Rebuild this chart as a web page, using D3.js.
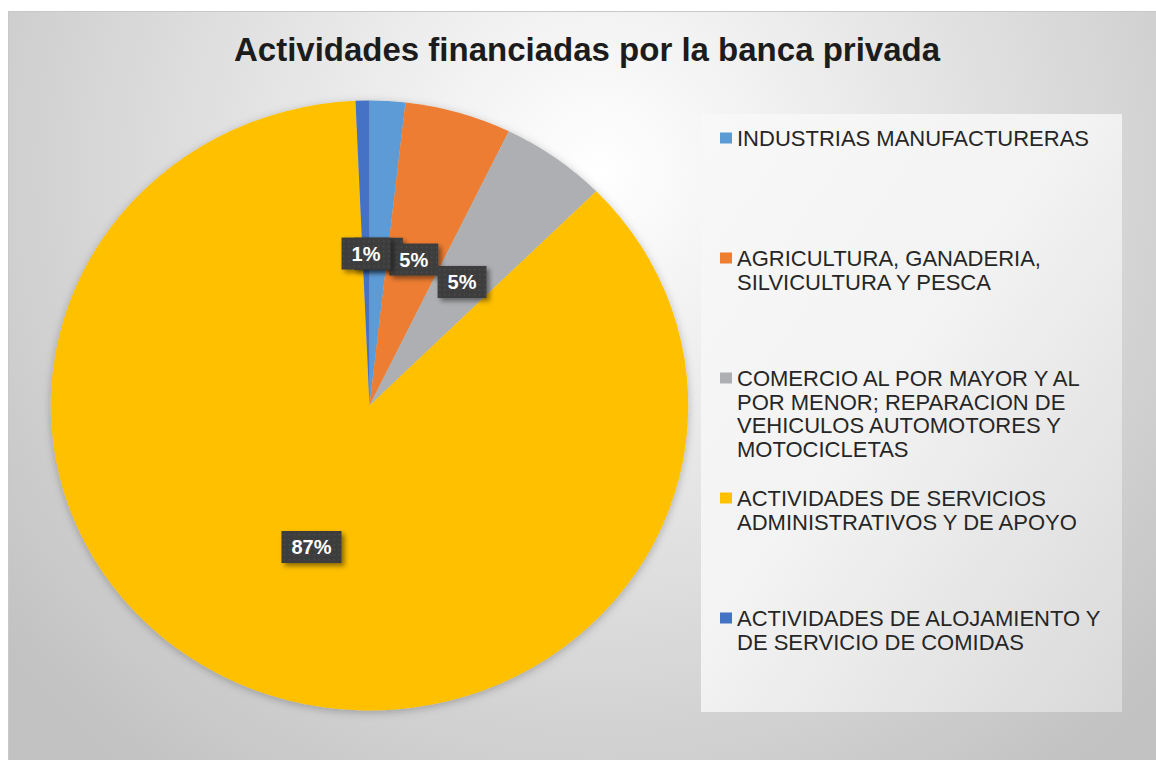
<!DOCTYPE html>
<html>
<head>
<meta charset="utf-8">
<script src="https://cdn.jsdelivr.net/npm/d3@7"></script>
<style>
  body { margin: 0; background: #fff; }
  svg { display: block; font-family: "Liberation Sans", Arial, sans-serif; }
</style>
</head>
<body>
<div id="chart"></div>
<script>
// data
var categories = [
    'INDUSTRIAS MANUFACTURERAS',
    'AGRICULTURA, GANADERIA, SILVICULTURA Y PESCA',
    'COMERCIO AL POR MAYOR Y AL POR MENOR; REPARACION DE VEHICULOS AUTOMOTORES Y MOTOCICLETAS',
    'ACTIVIDADES DE SERVICIOS ADMINISTRATIVOS Y DE APOYO',
    'ACTIVIDADES DE ALOJAMIENTO Y DE SERVICIO DE COMIDAS'
];
var shares = [1.8, 5.4, 5.4, 86.7, 0.7];
var colors = ['#5b9bd5', '#ed7d31', '#aeafb2', '#ffc000', '#4472c4'];
// the first label is buried under its neighbours in the original, only its box edge shows
var labelTextShown = [false, true, true, true, true];
// how the legend wraps each name
var legendLines = [
    ['INDUSTRIAS MANUFACTURERAS'],
    ['AGRICULTURA, GANADERIA,', 'SILVICULTURA Y PESCA'],
    ['COMERCIO AL POR MAYOR Y AL', 'POR MENOR; REPARACION DE', 'VEHICULOS AUTOMOTORES Y', 'MOTOCICLETAS'],
    ['ACTIVIDADES DE SERVICIOS', 'ADMINISTRATIVOS Y DE APOYO'],
    ['ACTIVIDADES DE ALOJAMIENTO Y', 'DE SERVICIO DE COMIDAS']
];
var title = 'Actividades financiadas por la banca privada';

var width = 1156, height = 760;
var cx = 369.5, cy = 405.5, radius = 305, stretch = 1.045;

var svg = d3.select('#chart').append('svg')
    .attr('width', width)
    .attr('height', height);

var defs = svg.append('defs');

var bg = defs.append('radialGradient')
    .attr('id', 'bg')
    .attr('gradientUnits', 'userSpaceOnUse')
    .attr('cx', 600).attr('cy', 170).attr('r', 760);
bg.append('stop').attr('offset', 0).attr('stop-color', '#ffffff');
bg.append('stop').attr('offset', 0.3).attr('stop-color', '#ededed');
bg.append('stop').attr('offset', 1).attr('stop-color', '#c2c2c2');

var lg = defs.append('linearGradient')
    .attr('id', 'legendBg')
    .attr('x1', 0).attr('y1', 0).attr('x2', 1).attr('y2', 1);
lg.append('stop').attr('offset', 0).attr('stop-color', '#f8f8f8');
lg.append('stop').attr('offset', 0.45).attr('stop-color', '#f3f3f3');
lg.append('stop').attr('offset', 1).attr('stop-color', '#d9d9d9');

var dots = defs.append('pattern')
    .attr('id', 'dots')
    .attr('patternUnits', 'userSpaceOnUse')
    .attr('width', 5).attr('height', 5);
dots.append('rect').attr('width', 5).attr('height', 5).attr('fill', '#3d3d3d');
dots.append('rect').attr('x', 2).attr('y', 2).attr('width', 1.5).attr('height', 1.5).attr('fill', '#4d4d4d');

var pieShadow = defs.append('filter').attr('id', 'pieShadow')
    .attr('x', '-10%').attr('y', '-10%').attr('width', '120%').attr('height', '120%');
pieShadow.append('feDropShadow')
    .attr('dx', 0).attr('dy', 2).attr('stdDeviation', 4)
    .attr('flood-color', '#000').attr('flood-opacity', 0.25);

var boxShadow = defs.append('filter').attr('id', 'boxShadow')
    .attr('x', '-30%').attr('y', '-30%').attr('width', '160%').attr('height', '180%');
boxShadow.append('feDropShadow')
    .attr('dx', 3).attr('dy', 3).attr('stdDeviation', 2.5)
    .attr('flood-color', '#000').attr('flood-opacity', 0.45);

// chart area
svg.append('rect')
    .attr('x', 8.5).attr('y', 11.5)
    .attr('width', width).attr('height', height)
    .attr('fill', 'url(#bg)')
    .attr('stroke', '#c8c8c8');

svg.append('text')
    .attr('x', 587)
    .attr('y', 61)
    .attr('text-anchor', 'middle')
    .attr('font-size', 33)
    .attr('font-weight', 'bold')
    .attr('fill', '#1c1c1c')
    .text(title);

// pie
var pie = d3.pie().sort(null).value(function(d) { return d; });
var arcs = pie(shares);
var total = d3.sum(shares);

var arc = d3.arc().innerRadius(0).outerRadius(radius);
var labelArc = d3.arc().innerRadius(152).outerRadius(152);

var g = svg.append('g')
    .attr('transform', 'translate(' + cx + ',' + cy + ') scale(' + stretch + ',1)')
    .attr('filter', 'url(#pieShadow)');

g.selectAll('.slice')
    .data(arcs)
    .enter().append('path')
    .attr('class', 'slice')
    .attr('d', arc)
    .attr('fill', function(d, i) { return colors[i]; });

// data labels
var fmt = function(d) { return Math.round(d.value / total * 100) + '%'; };

var labels = svg.selectAll('.lbl')
    .data(arcs)
    .enter().append('g')
    .attr('class', 'lbl')
    .attr('transform', function(d) {
        var c = labelArc.centroid(d);
        return 'translate(' + (cx + c[0] * stretch) + ',' + (cy + c[1]) + ')';
    });

labels.append('text')
    .attr('text-anchor', 'middle')
    .attr('dy', 7)
    .attr('font-size', 20)
    .attr('font-weight', 'bold')
    .attr('fill', '#ffffff')
    .text(fmt)
    .each(function(d, i) {
        var w = this.getComputedTextLength() + 20;
        d3.select(this.parentNode).insert('rect', 'text')
            .attr('x', -w / 2).attr('y', -16)
            .attr('width', w).attr('height', 32)
            .attr('fill', 'url(#dots)')
            .attr('filter', 'url(#boxShadow)');
        if (!labelTextShown[i]) d3.select(this).remove();
    });

// legend
svg.append('rect')
    .attr('x', 701).attr('y', 114)
    .attr('width', 421).attr('height', 598)
    .attr('fill', 'url(#legendBg)');

var ly = d3.scalePoint().domain(categories).range([138, 618]);
var lineH = 23.7;

var items = svg.selectAll('.legend-item')
    .data(categories)
    .enter().append('g')
    .attr('class', 'legend-item')
    .attr('transform', function(d) { return 'translate(720,' + ly(d) + ')'; });

items.append('rect')
    .attr('x', 0).attr('y', -5.5)
    .attr('width', 12).attr('height', 11)
    .attr('fill', function(d, i) { return colors[i]; });

items.append('text')
    .attr('x', 17)
    .attr('y', 7.8)
    .attr('font-size', 22)
    .attr('fill', '#262626')
    .each(function(d, i) {
        var t = d3.select(this);
        legendLines[i].forEach(function(line, j) {
            t.append('tspan').attr('x', 17).attr('dy', j === 0 ? 0 : lineH).text(line);
        });
    });
</script>
</body>
</html>
